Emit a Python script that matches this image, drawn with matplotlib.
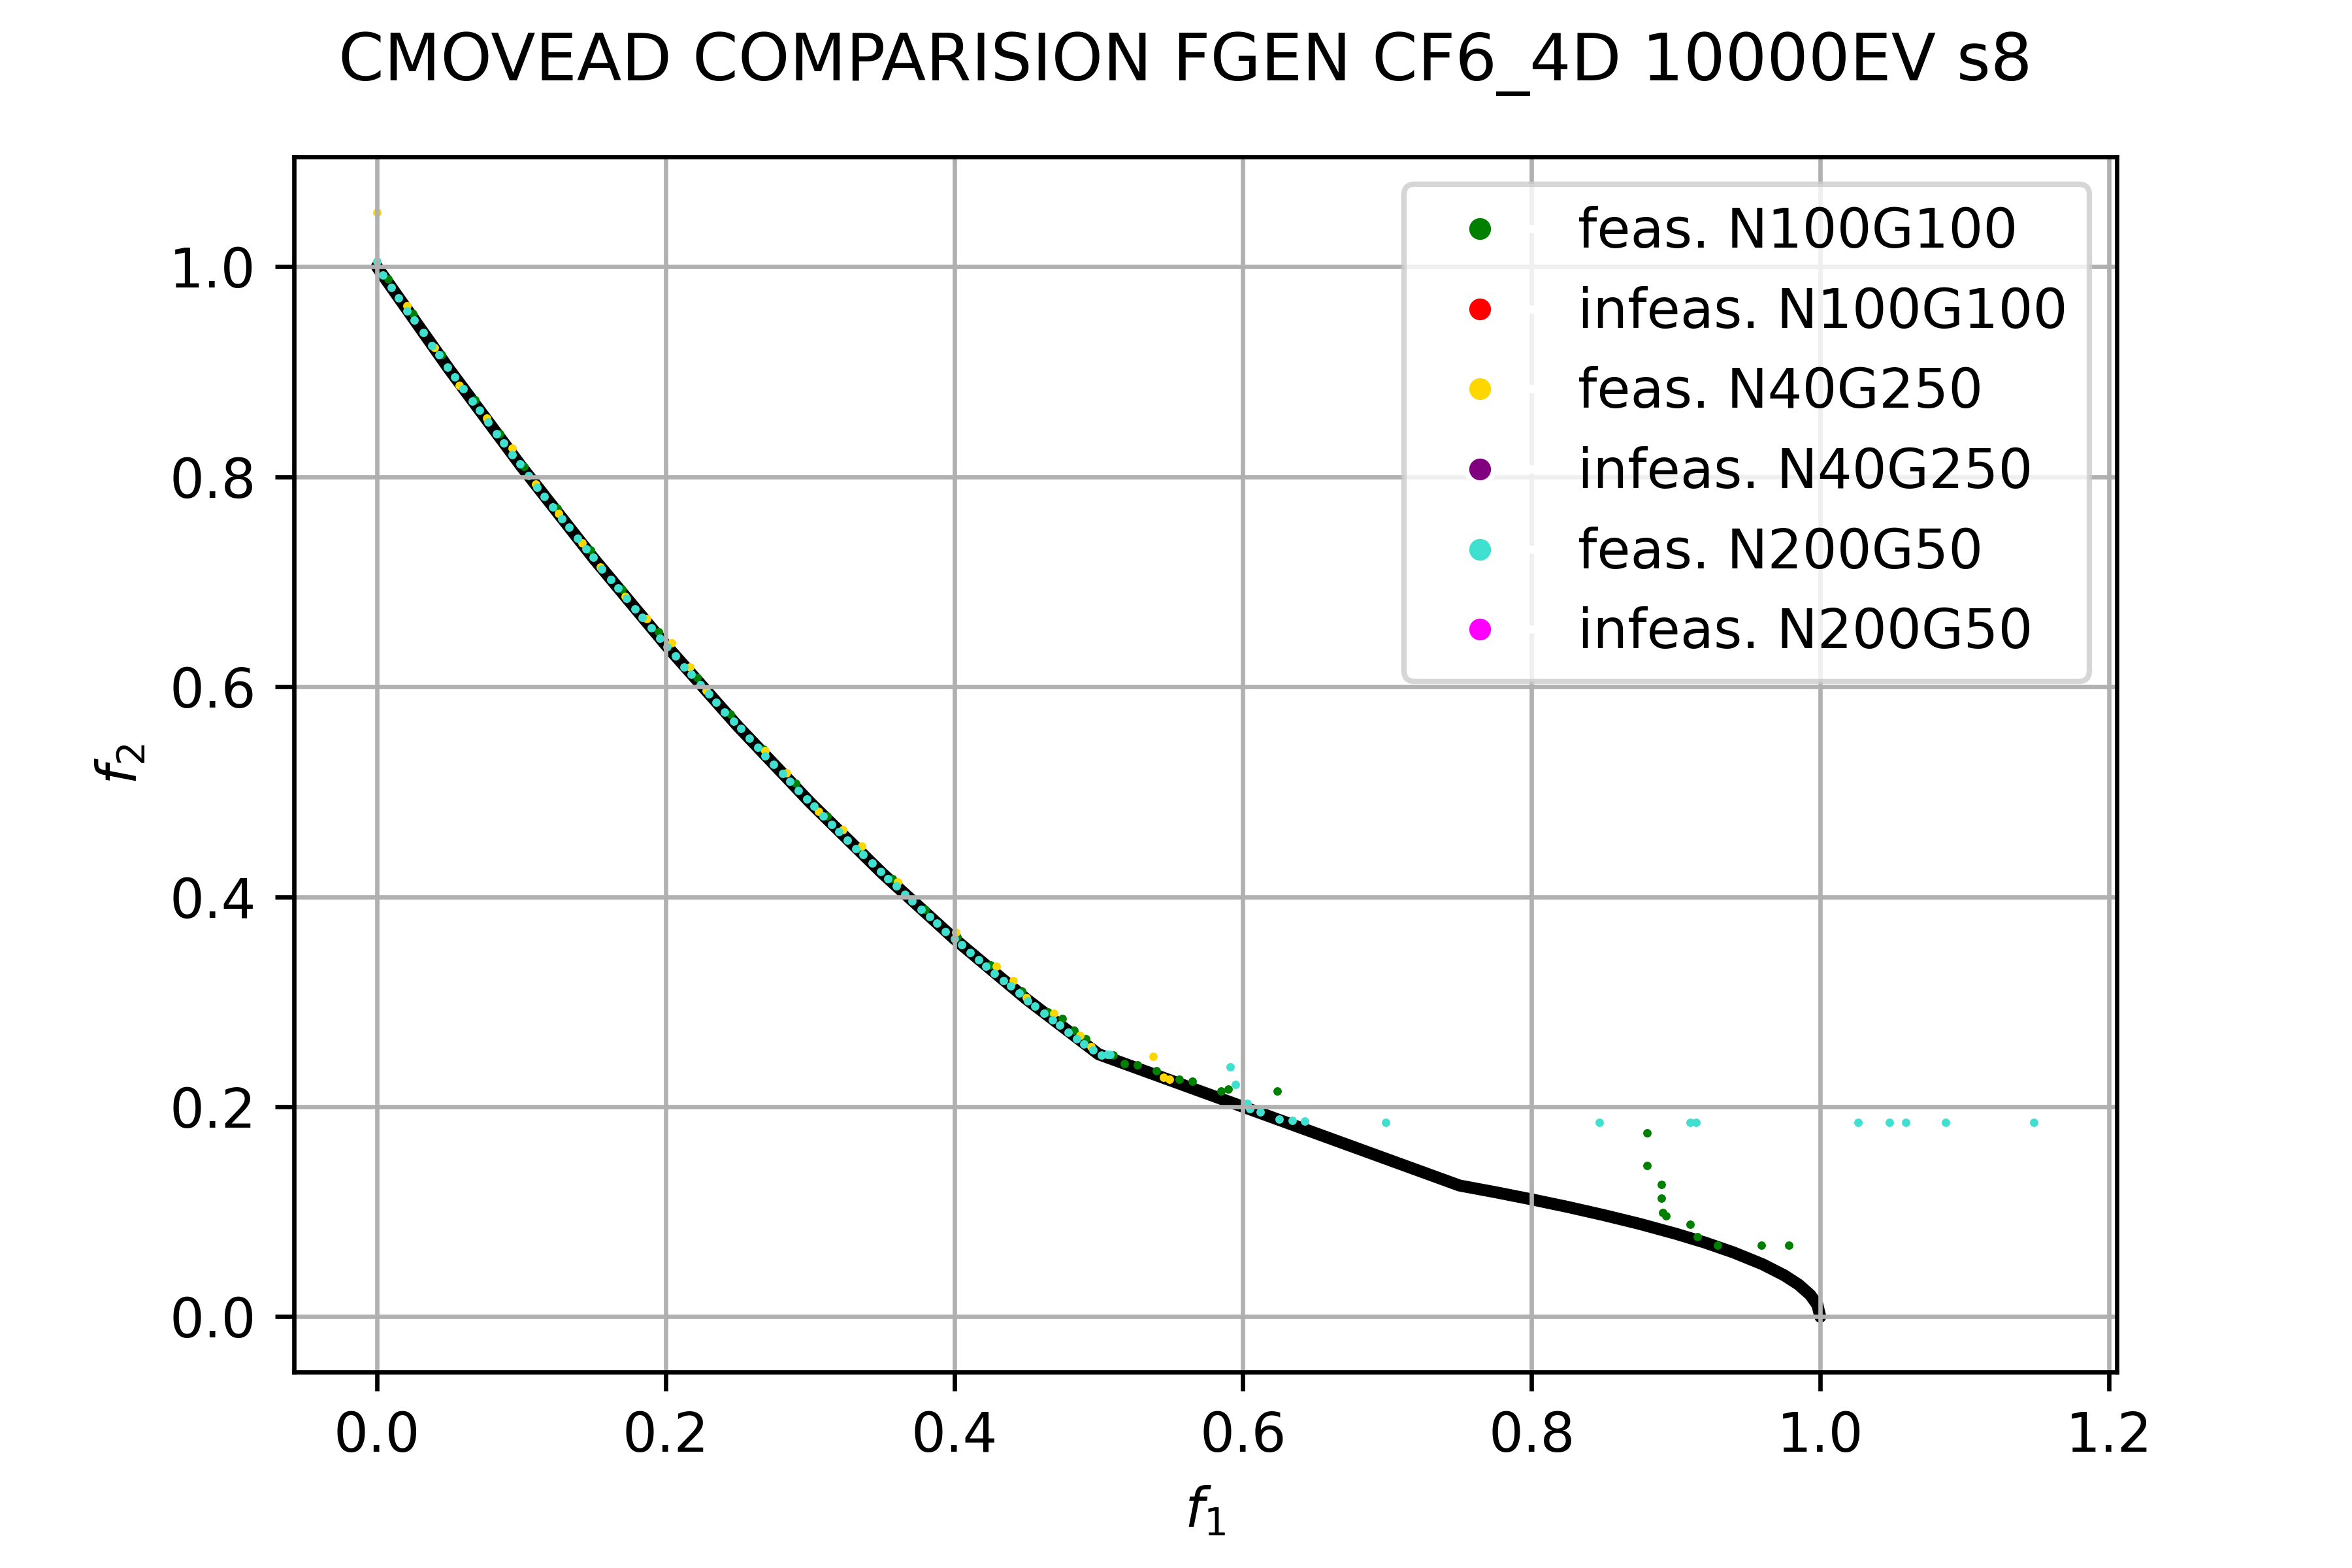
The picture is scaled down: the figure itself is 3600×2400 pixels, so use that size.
import matplotlib.pyplot as plt
from matplotlib.lines import Line2D

TITLE = "CMOVEAD COMPARISION FGEN CF6_4D 10000EV s8"

# true pareto front of CF6
pf_f1 = [0.0, 0.05, 0.1, 0.15, 0.2, 0.25, 0.3, 0.35, 0.4, 0.45, 0.5,
         0.75, 0.775, 0.8, 0.825, 0.85, 0.875, 0.9, 0.92, 0.94, 0.96,
         0.975, 0.985, 0.993, 0.998, 1.0]
pf_f2 = [1.0, 0.9025, 0.81, 0.7225, 0.64, 0.5625, 0.49, 0.4225, 0.36, 0.3025, 0.25,
         0.125, 0.1186, 0.1118, 0.1046, 0.0968, 0.0884, 0.079, 0.0707, 0.0612, 0.05,
         0.0395, 0.0306, 0.0209, 0.0112, 0.0]

# N100G100 feasible
n100_f1 = [0.008, 0.025, 0.045, 0.068, 0.085, 0.102, 0.125, 0.148, 0.170, 0.195,
           0.222, 0.245, 0.268, 0.290, 0.312, 0.335, 0.357, 0.380, 0.402, 0.425,
           0.447, 0.465, 0.475, 0.483, 0.491, 0.510,
           0.518, 0.527, 0.540, 0.556, 0.565, 0.585, 0.590, 0.624,
           0.880, 0.880, 0.890, 0.890, 0.891, 0.893, 0.910, 0.915, 0.929, 0.959, 0.978]
n100_f2 = [0.988, 0.955, 0.916, 0.873, 0.841, 0.810, 0.770, 0.730, 0.693, 0.652,
           0.609, 0.574, 0.540, 0.508, 0.477, 0.446, 0.417, 0.388, 0.362, 0.335,
           0.310, 0.290, 0.284, 0.273, 0.265, 0.249,
           0.241, 0.240, 0.234, 0.226, 0.224, 0.215, 0.217, 0.215,
           0.175, 0.144, 0.126, 0.113, 0.099, 0.096, 0.088, 0.076, 0.068, 0.068, 0.068]
n100_inf_f1 = []
n100_inf_f2 = []

# N40G250 feasible
n40_f1 = [0.0, 0.021, 0.040, 0.057, 0.076, 0.094, 0.110, 0.126, 0.142, 0.155,
          0.172, 0.187, 0.204, 0.217, 0.228, 0.269, 0.284, 0.306, 0.323, 0.336,
          0.361, 0.401, 0.429, 0.441, 0.450, 0.469, 0.487, 0.495,
          0.538, 0.545, 0.549]
n40_f2 = [1.052, 0.963, 0.923, 0.887, 0.856, 0.827, 0.793, 0.765, 0.737, 0.714,
          0.686, 0.665, 0.642, 0.619, 0.596, 0.539, 0.518, 0.481, 0.464, 0.448,
          0.414, 0.366, 0.334, 0.320, 0.304, 0.289, 0.268, 0.257,
          0.248, 0.228, 0.226]
n40_inf_f1 = []
n40_inf_f2 = []

# N200G50 feasible
n200_f1 = [0.000, 0.004, 0.010, 0.015, 0.021, 0.026, 0.032, 0.038, 0.043, 0.049,
           0.054, 0.060, 0.066, 0.071, 0.077, 0.083, 0.088, 0.094, 0.099, 0.105,
           0.111, 0.116, 0.122, 0.128, 0.133, 0.139, 0.145, 0.150, 0.156, 0.162,
           0.167, 0.173, 0.179, 0.184, 0.190, 0.196, 0.201, 0.207, 0.213, 0.218,
           0.224, 0.230, 0.235, 0.241, 0.247, 0.252, 0.258, 0.264, 0.269, 0.275,
           0.281, 0.286, 0.292, 0.298, 0.303, 0.309, 0.315, 0.320, 0.326, 0.332,
           0.337, 0.343, 0.349, 0.354, 0.360, 0.366, 0.371, 0.377, 0.383, 0.388,
           0.394, 0.400, 0.405, 0.411, 0.417, 0.422, 0.428, 0.434, 0.439, 0.445,
           0.451, 0.456, 0.462, 0.468, 0.473, 0.479, 0.485, 0.490, 0.496, 0.502,
           0.506, 0.508, 0.591, 0.595, 0.603, 0.605, 0.612, 0.625, 0.634, 0.643,
           0.699, 0.847, 0.910, 0.914, 1.026, 1.048, 1.059, 1.087, 1.148]
n200_f2 = [1.005, 0.992, 0.980, 0.970, 0.958, 0.949, 0.937, 0.925, 0.916, 0.904,
           0.895, 0.884, 0.872, 0.863, 0.852, 0.841, 0.832, 0.821, 0.812, 0.801,
           0.790, 0.781, 0.771, 0.760, 0.752, 0.741, 0.731, 0.723, 0.712, 0.702,
           0.694, 0.684, 0.674, 0.666, 0.656, 0.646, 0.638, 0.629, 0.619, 0.612,
           0.602, 0.593, 0.585, 0.576, 0.567, 0.560, 0.551, 0.542, 0.534, 0.526,
           0.517, 0.510, 0.501, 0.493, 0.486, 0.477, 0.469, 0.462, 0.454, 0.446,
           0.440, 0.432, 0.424, 0.417, 0.410, 0.402, 0.396, 0.388, 0.381, 0.375,
           0.367, 0.360, 0.354, 0.347, 0.340, 0.334, 0.327, 0.320, 0.315, 0.308,
           0.301, 0.296, 0.289, 0.283, 0.278, 0.271, 0.265, 0.260, 0.254, 0.249,
           0.250, 0.250, 0.238, 0.221, 0.203, 0.198, 0.195, 0.188, 0.187, 0.186,
           0.185, 0.185, 0.185, 0.185, 0.185, 0.185, 0.185, 0.185, 0.185]
n200_inf_f1 = []
n200_inf_f2 = []

labels = ["feas. N100G100", "infeas. N100G100", "feas. N40G250",
          "infeas. N40G250", "feas. N200G50", "infeas. N200G50"]
colors = ["green", "red", "gold", "purple", "turquoise", "magenta"]

fig, ax = plt.subplots(figsize=(6, 4), dpi=600)
fig.subplots_adjust(left=0.125, right=0.9, bottom=0.125, top=0.9)

ax.plot(pf_f1, pf_f2, color="black", linewidth=2.2,
        solid_capstyle="round", solid_joinstyle="round", zorder=1)

series = [(n100_f1, n100_f2), (n100_inf_f1, n100_inf_f2),
          (n40_f1, n40_f2), (n40_inf_f1, n40_inf_f2),
          (n200_f1, n200_f2), (n200_inf_f1, n200_inf_f2)]
for (xs, ys), col in zip(series, colors):
    ax.scatter(xs, ys, s=2.4, color=col, linewidths=0)

ax.grid(True)
ax.set_xlabel("$f_1$")
ax.set_ylabel("$f_2$")
fig.suptitle(TITLE, x=0.504)

handles = [Line2D([0], [0], marker="o", color="w", markerfacecolor=c,
                  markersize=5, label=l) for c, l in zip(colors, labels)]
ax.legend(handles=handles, loc="upper right")

fig.savefig("out.png", dpi=600)
